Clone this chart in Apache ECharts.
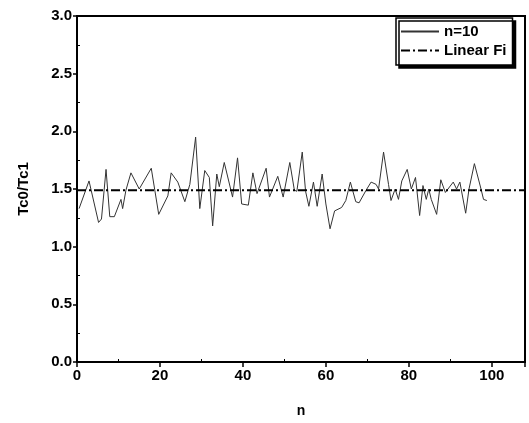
<!DOCTYPE html>
<html>
<head>
<meta charset="utf-8">
<title>Tc0/Tc1</title>
<script src="https://cdn.jsdelivr.net/npm/echarts@6/dist/echarts.min.js"></script>
<style>
  html, body { margin: 0; padding: 0; background: #fff; }
  #main { width: 529px; height: 423px; }
</style>
</head>
<body>
<div id="main"></div>
<script>
// values
var xs = [0.5, 2.9, 5.2, 5.9, 7, 7.9, 9, 10.6, 11, 11.8, 13, 15, 17.9, 19.7, 21.9, 22.7, 24.3, 26, 27.2, 28.6,
  29.6, 30.8, 31.9, 32.7, 33.7, 34.3, 35.5, 37.5, 38.7, 39.7, 41.3, 42.4, 43.4, 45.6, 46.4, 48.4, 49.7, 51.3,
  52.4, 53, 54.3, 55.1, 55.9, 57, 57.9, 59.1, 60, 61, 62.1, 63.8, 64.8, 65.9, 67.2, 68, 69.7, 70.9, 72.1, 72.7,
  73.9, 75.1, 75.7, 76.7, 77.5, 78.3, 79.6, 80.6, 81.6, 82.6, 83.4, 84.2, 84.8, 85.4, 86.7, 87.7, 88.8, 90.7,
  91.5, 92.3, 93.7, 94.5, 95.8, 97.4, 98, 98.8];
var ys = [1.33, 1.57, 1.21, 1.24, 1.67, 1.26, 1.26, 1.41, 1.33, 1.49, 1.64, 1.50, 1.68, 1.28, 1.44, 1.64, 1.56, 1.39, 1.54, 1.95,
  1.33, 1.66, 1.60, 1.18, 1.63, 1.52, 1.73, 1.43, 1.77, 1.37, 1.36, 1.64, 1.46, 1.68, 1.43, 1.61, 1.43, 1.73,
  1.49, 1.48, 1.82, 1.48, 1.35, 1.56, 1.35, 1.63, 1.37, 1.155, 1.31, 1.34, 1.40, 1.56, 1.39, 1.38, 1.49, 1.56, 1.54, 1.50,
  1.82, 1.54, 1.40, 1.50, 1.41, 1.57, 1.67, 1.50, 1.60, 1.27, 1.53, 1.41, 1.50, 1.41, 1.28, 1.58, 1.47, 1.56,
  1.50, 1.56, 1.29, 1.50, 1.72, 1.50, 1.41, 1.40];
var fitX = [0, 108];
var fitY = [1.49, 1.49];
var seriesNames = ['n=10', 'Linear Fit'];

var chart = echarts.init(document.getElementById('main'));

var data = [];
for (var i = 0; i < xs.length; i++) {
  data.push([xs[i], ys[i]]);
}
var fitData = [];
for (var j = 0; j < fitX.length; j++) {
  fitData.push([fitX[j], fitY[j]]);
}

var font = 'Liberation Sans, Arial, sans-serif';

var option = {
  animation: false,
  grid: {
    left: 77, right: 4, top: 16, bottom: 59,
    show: true, borderColor: '#000', borderWidth: 2
  },
  legend: {
    orient: 'vertical',
    left: 396, top: 18,
    padding: [6, 6, 7, 4],
    itemGap: 4,
    itemWidth: 38, itemHeight: 14,
    backgroundColor: '#fff',
    borderColor: '#000', borderWidth: 1.5, borderRadius: 0,
    shadowColor: '#000', shadowBlur: 0, shadowOffsetX: 3, shadowOffsetY: 3,
    itemStyle: { opacity: 0 },
    data: seriesNames,
    textStyle: {
      fontFamily: font, fontSize: 15, fontWeight: 'bold', color: '#000',
      width: 68, overflow: 'truncate', ellipsis: '\u200b'
    }
  },
  xAxis: {
    type: 'value',
    min: 0, max: 108, interval: 20,
    name: 'n',
    nameLocation: 'middle',
    nameGap: 42,
    nameTextStyle: { fontFamily: font, fontSize: 14, fontWeight: 'bold', color: '#000' },
    axisLine: { show: true, onZero: false, lineStyle: { color: '#000', width: 2 } },
    axisTick: { show: true, length: 5, lineStyle: { color: '#000', width: 1.5 } },
    minorTick: { show: true, splitNumber: 2, length: -3, lineStyle: { color: '#000', width: 1 } },
    splitLine: { show: false },
    axisLabel: {
      showMaxLabel: false, margin: 6,
      fontFamily: font, fontSize: 15, fontWeight: 'bold', color: '#000'
    }
  },
  yAxis: {
    type: 'value',
    min: 0, max: 3, interval: 0.5,
    name: 'Tc0/Tc1',
    nameLocation: 'middle',
    nameGap: 46,
    nameTextStyle: { fontFamily: font, fontSize: 15, fontWeight: 'bold', color: '#000' },
    axisLine: { show: true, onZero: false, lineStyle: { color: '#000', width: 2 } },
    axisTick: { show: true, length: 4, lineStyle: { color: '#000', width: 1.5 } },
    minorTick: { show: true, splitNumber: 2, length: -3, lineStyle: { color: '#000', width: 1 } },
    splitLine: { show: false },
    axisLabel: {
      margin: 5,
      fontFamily: font, fontSize: 15, fontWeight: 'bold', color: '#000',
      formatter: function (v) { return v.toFixed(1); }
    }
  },
  series: [
    {
      name: seriesNames[0],
      type: 'line',
      data: data,
      symbol: 'none',
      lineStyle: { color: '#333', width: 1 },
      itemStyle: { color: '#333' }
    },
    {
      name: seriesNames[1],
      type: 'line',
      data: fitData,
      symbol: 'none',
      lineStyle: { color: '#000', width: 2, type: [9, 3, 2, 3] },
      itemStyle: { color: '#000' }
    }
  ]
};

chart.setOption(option);
</script>
</body>
</html>
